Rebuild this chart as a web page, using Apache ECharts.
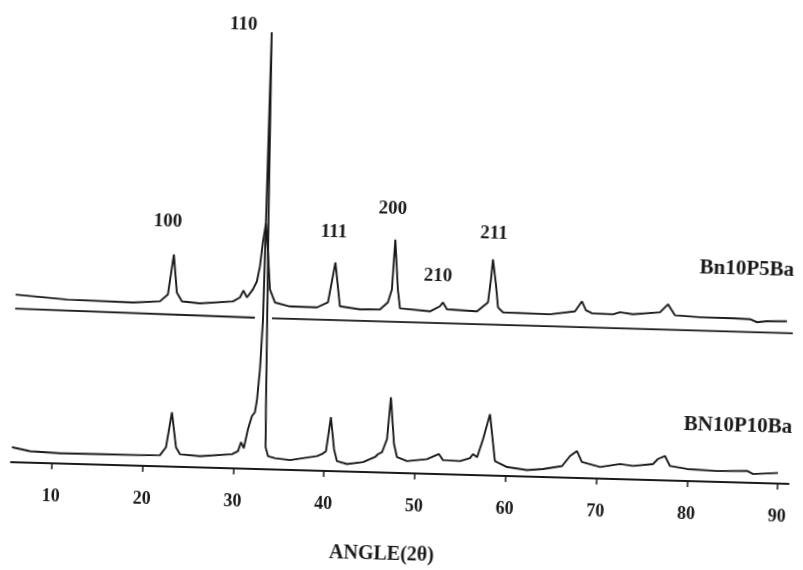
<!DOCTYPE html>
<html>
<head>
<meta charset="utf-8">
<script src="https://cdn.jsdelivr.net/npm/echarts/dist/echarts.min.js"></script>
<style>
html,body{margin:0;padding:0;background:#fff;overflow:hidden;}
#chart{width:803px;height:570px;transform:rotate(1.6deg);transform-origin:401.5px 285px;}
</style>
</head>
<body>
<div id="chart"></div>
<script>
// 2θ tick labels
var tickValues = [10, 20, 30, 40, 50, 60, 70, 80, 90];

// Bn10P5Ba pattern: [2θ, intensity]
var upperPattern = [
[5.5,168],[11.16,164.5],[18.44,163.4],[21.41,165.2],[22.27,172.4],[22.81,212.6],[23.25,174.6],[23.84,165.8],
[25.82,164.3],[29.45,167.2],[30.21,171.4],[30.58,178.5],[30.98,171.6],[31.61,179.8],[32.03,187.9],[32.32,203],
[32.57,227.1],[32.85,246.2],[33.14,220.2],[33.49,180.3],[34.08,167.4],[35.74,163.8],[38.73,163.6],[39.92,168.9],
[40.62,209.1],[41.25,165.3],[43.46,162.8],[45.67,163.4],[46.52,170.6],[46.92,183.7],[47.15,233.8],[47.58,183.9],
[47.87,165],[51.18,162.8],[52.26,168.1],[52.58,172.2],[53.04,165.3],[56.36,164.1],[57.54,173.4],[57.8,196.5],
[57.96,216.6],[58.36,191.7],[58.66,168.7],[59.22,163.9],[64.4,163.2],[67.15,166.9],[67.89,177.1],[68.35,168.2],
[69.02,165.4],[71.34,165],[72.11,167.2],[73.54,165.6],[76.51,168.3],[77.37,176.5],[78.18,165.7],[80.93,164.5],
[84.57,164.4],[86.45,163.9],[87.23,161.1],[88.32,162.3],[90.52,162.9]
];

// zero line of the Bn10P5Ba pattern
var upperZero = [[5.5,154],[31.92,151.6],[32.8,'-'],[33.8,151.5],[91.2,151]];

// BN10P10Ba pattern: [2θ, intensity]
var lowerPattern = [
[5.57,15],[7.56,11.5],[10.87,10.3],[15.28,10.5],[19.69,10.6],[21.89,11.2],[22.53,19.3],[23.08,54.5],[23.63,19.6],
[24.09,12.7],[26.31,11.3],[29.82,14.2],[30.47,17.4],[30.78,26.5],[31.1,20.5],[31.5,39.7],[31.9,52.8],[32.22,56.9],
[32.41,69.9],[32.64,100],[32.82,150],[32.9,438],[33.12,250],[33.28,150],[33.42,60],[33.5,22],[33.79,13.2],
[34.57,11.4],[36.23,9.9],[39.19,14.6],[39.73,16.8],[40.16,19.9],[40.6,54],[41.04,22.1],[41.39,10.2],[42.52,7.5],
[44.27,9.9],[45.58,15.3],[45.9,18.3],[46.34,20.5],[46.84,33.6],[47.15,75.7],[47.63,28.8],[48.0,15.9],[49.11,12.2],
[51.3,14.7],[52.61,20.1],[53.07,14.2],[54.95,13.7],[56.04,16.9],[56.36,21],[56.82,18.1],[57.42,36.3],[58.11,61.5],
[58.79,14.6],[60.15,9],[62.36,6.5],[64.11,8],[66.2,11.5],[67.05,21.8],[67.8,27],[68.37,16.1],[70.39,11.6],
[72.58,15.2],[74.02,13.6],[76.22,16.1],[76.74,21.3],[77.5,24.5],[78.09,14.6],[79.97,12.1],[83.29,10.9],
[86.59,11.8],[87.26,8.9],[90.0,10.7]
];

// Miller index annotations
var peakNames = ['110', '100', '111', '200', '210', '211'];
var peakAngles = [29.8, 22.04, 40.36, 46.79, 51.95, 57.99];
var peakHeights = [444.5, 245.4, 239.1, 264.8, 198, 242.6];

// sample names
var sampleNames = ['Bn10P5Ba', 'BN10P10Ba'];
var sampleAngles = [85.95, 85.44];
var sampleHeights = [213.8, 56.6];

var INK = '#1a1a1a';
var FONT = '"Liberation Serif", "DejaVu Serif", serif';

var peakData = peakNames.map(function (n, i) { return { name: n, value: [peakAngles[i], peakHeights[i]] }; });
var sampleData = sampleNames.map(function (n, i) { return { name: n, value: [sampleAngles[i], sampleHeights[i]] }; });

var chart = echarts.init(document.getElementById('chart'), null, { renderer: 'canvas' });
chart.setOption({
  animation: false,
  backgroundColor: '#ffffff',
  grid: { left: 16, right: 9, top: 24, bottom: 96 },
  xAxis: {
    type: 'value',
    min: 5.5,
    max: 91.2,
    splitLine: { show: false },
    axisLine: { lineStyle: { color: INK, width: 1.8 } },
    axisTick: { show: true, customValues: tickValues, length: 6, lineStyle: { color: INK, width: 1.5 } },
    axisLabel: { customValues: tickValues, color: INK, fontFamily: FONT, fontWeight: 'bold', fontSize: 18, margin: 24 },
    name: 'ANGLE(2θ)',
    nameLocation: 'middle',
    nameGap: 72,
    nameTextStyle: { color: INK, fontFamily: FONT, fontWeight: 'bold', fontSize: 20, padding: [0, 32, 0, 0] }
  },
  yAxis: { type: 'value', min: 0, max: 450, show: false },
  series: [
    { name: 'Bn10P5Ba', type: 'line', data: upperPattern, showSymbol: false, lineStyle: { color: INK, width: 1.9 }, z: 3 },
    { name: 'Bn10P5Ba zero', type: 'line', data: upperZero, showSymbol: false, connectNulls: false, lineStyle: { color: INK, width: 1.9 }, z: 2 },
    { name: 'BN10P10Ba', type: 'line', data: lowerPattern, showSymbol: false, lineStyle: { color: INK, width: 1.9 }, z: 3 },
    { name: 'peaks', type: 'scatter', data: peakData, symbolSize: 0, silent: true, itemStyle: { opacity: 1 },
      label: { show: true, position: 'inside', formatter: '{b}', color: INK, fontFamily: FONT, fontWeight: 'bold', fontSize: 19 } },
    { name: 'samples', type: 'scatter', data: sampleData, symbolSize: 0, silent: true, itemStyle: { opacity: 1 },
      label: { show: true, position: 'inside', formatter: '{b}', color: INK, fontFamily: FONT, fontWeight: 'bold', fontSize: 21 } }
  ]
});
</script>
</body>
</html>
